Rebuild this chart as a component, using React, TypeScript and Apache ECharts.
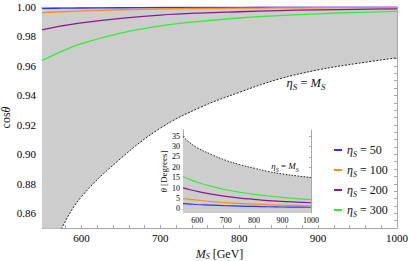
import React, { useEffect, useRef } from 'react';
import * as echarts from 'echarts';

// Scalar mass M_S [GeV] at which the curves were read
const massGeV = [550, 575, 600, 650, 700, 750, 800, 850, 900, 950, 1000];
// mixing angle theta [degrees] for each eta_S
const etaValues = ['50', '100', '200', '300'];
const thetaEta50 = [2.5, 2.3, 2.1, 1.8, 1.5, 1.3, 1.15, 1.0, 0.9, 0.82, 0.76];
const thetaEta100 = [5.0, 4.6, 4.2, 3.5, 3.0, 2.6, 2.3, 2.0, 1.8, 1.65, 1.5];
const thetaEta200 = [10.1, 9.2, 8.4, 7.1, 6.0, 5.2, 4.6, 4.0, 3.6, 3.2, 2.95];
const thetaEta300 = [15.5, 14.1, 12.8, 10.8, 9.2, 8.0, 7.0, 6.2, 5.5, 4.9, 4.45];
// boundary eta_S = M_S
const thetaBoundary = [34.8, 31.8, 29.4, 26.2, 23.4, 21.3, 19.6, 18.0, 16.8, 15.9, 15.1];

// tick labels
const mainXLabels = [600, 700, 800, 900, 1000];
const mainYLabels = [0.86, 0.88, 0.9, 0.92, 0.94, 0.96, 0.98, 1.0];
const insetXLabels = [600, 700, 800, 900, 1000];
const insetYLabels = [0, 5, 10, 15, 20, 25, 30, 35];

const colors = ['#3030ff', '#ff8c1a', '#8a1a8a', '#33ee33'];
const FONT = 'Liberation Serif';
const FRAME = '#a8a8a8';

const thetaSets = [thetaEta50, thetaEta100, thetaEta200, thetaEta300];

const toCos = (deg: number) => Math.cos((deg * Math.PI) / 180);

const richBase = (size: number, lh: number = size + 4) => ({
  i: { fontFamily: FONT, fontSize: size, fontStyle: 'italic', lineHeight: lh, color: '#111' },
  s: { fontFamily: FONT, fontSize: Math.round(size * 0.68), fontStyle: 'italic', lineHeight: Math.round(size * 0.68), verticalAlign: 'bottom', color: '#111' },
  t: { fontFamily: FONT, fontSize: size, lineHeight: lh, color: '#111' },
});

const richGraphic = (size: number) => ({
  i: { fontFamily: FONT, fontSize: size, fontStyle: 'italic', lineHeight: size + 4, fill: '#111' },
  s: { fontFamily: FONT, fontSize: Math.round(size * 0.68), fontStyle: 'italic', lineHeight: Math.round(size * 0.68), verticalAlign: 'bottom', fill: '#111' },
  t: { fontFamily: FONT, fontSize: size, lineHeight: size + 4, fill: '#111' },
});

const range = (a: number, b: number, step: number) => {
  const out: number[] = [];
  for (let v = a; v <= b + step * 1e-6; v += step) out.push(Math.round(v * 10000) / 10000);
  return out;
};

export default function App() {
  const ref = useRef<HTMLDivElement>(null);

  useEffect(() => {
    if (!ref.current) return;
    const chart = echarts.init(ref.current, undefined, { renderer: 'svg' });

    const mainXTicks = range(560, 1000, 20);
    const mainYTicks = range(0.855, 1.0, 0.005);
    const insetXTicks = range(560, 1000, 20);
    const insetYTicks = range(0, 35, 5);

    const axisCommon = {
      type: 'value' as const,
      axisLine: { show: true, lineStyle: { color: FRAME, width: 1 } },
      splitLine: { show: false },
      nameMoveOverlap: false,
    };

    const series: any[] = [];
    series.push({
      type: 'line',
      name: 'boundary',
      xAxisIndex: 0,
      yAxisIndex: 0,
      smooth: 0.4,
      symbol: 'none',
      clip: true,
      data: massGeV.map((m, k) => [m, toCos(thetaBoundary[k])]),
      lineStyle: { color: '#222', width: 1, type: [2, 1.5] },
      areaStyle: { origin: 'end', color: '#cdcdcd', opacity: 1 },
      z: 2,
    });
    thetaSets.forEach((set, j) => {
      series.push({
        type: 'line',
        name: 'eta' + etaValues[j],
        xAxisIndex: 0,
        yAxisIndex: 0,
        smooth: 0.4,
        symbol: 'none',
        clip: true,
        data: massGeV.map((m, k) => [m, toCos(set[k])]),
        lineStyle: { color: colors[j], width: 1.3 },
        itemStyle: { color: colors[j] },
        z: 3,
      });
    });
    series.push({
      type: 'line',
      name: 'boundaryInset',
      xAxisIndex: 2,
      yAxisIndex: 2,
      smooth: 0.4,
      symbol: 'none',
      data: massGeV.map((m, k) => [m, thetaBoundary[k]]),
      lineStyle: { color: '#222', width: 1, type: [1.5, 1.5] },
      areaStyle: { origin: 'start', color: '#cdcdcd', opacity: 1 },
      z: 2,
    });
    thetaSets.forEach((set, j) => {
      series.push({
        type: 'line',
        name: 'eta' + etaValues[j],
        xAxisIndex: 2,
        yAxisIndex: 2,
        smooth: 0.4,
        symbol: 'none',
        data: massGeV.map((m, k) => [m, set[k]]),
        lineStyle: { color: colors[j], width: 1.2 },
        itemStyle: { color: colors[j] },
        z: 3,
      });
    });

    const plain = (v: number) => String(v);

    const option: any = {
      animation: false,
      backgroundColor: '#ffffff',
      textStyle: { fontFamily: FONT, color: '#111' },
      grid: [
        { left: 42, right: 14, top: 7, bottom: 33, show: false, containLabel: false, outerBoundsMode: 'none' },
        {
          left: 183, right: 100, top: 130, bottom: 48, show: true, backgroundColor: '#ffffff', borderWidth: 0,
          containLabel: false, outerBoundsMode: 'none',
        },
      ],
      xAxis: [
        {
          ...axisCommon,
          gridIndex: 0,
          min: 550,
          max: 1000,
          position: 'bottom',
          axisTick: { show: true, inside: true, length: 3, customValues: mainXTicks, lineStyle: { color: FRAME } },
          axisLabel: { customValues: mainXLabels, fontFamily: FONT, fontSize: 11, color: '#000', margin: 4, formatter: plain },
          name: '{i|M}{s|S}{t| [GeV]}',
          nameLocation: 'middle',
          nameGap: 20,
          nameTextStyle: { rich: richBase(12, 12) },
        },
        {
          ...axisCommon,
          gridIndex: 0,
          min: 550,
          max: 1000,
          position: 'top',
          axisTick: { show: true, inside: true, length: 3, customValues: mainXTicks, lineStyle: { color: FRAME } },
          axisLabel: { show: false },
        },
        {
          ...axisCommon,
          gridIndex: 1,
          min: 550,
          max: 1000,
          position: 'bottom',
          axisTick: { show: true, inside: true, length: 2, customValues: insetXTicks, lineStyle: { color: FRAME } },
          axisLabel: { customValues: insetXLabels, fontFamily: FONT, fontSize: 8, color: '#000', margin: 3, formatter: plain },
        },
        {
          ...axisCommon,
          gridIndex: 1,
          min: 550,
          max: 1000,
          position: 'top',
          axisTick: { show: true, inside: true, length: 2, customValues: insetXTicks, lineStyle: { color: FRAME } },
          axisLabel: { show: false },
        },
      ],
      yAxis: [
        {
          ...axisCommon,
          gridIndex: 0,
          min: 0.85,
          max: 1.0,
          position: 'left',
          axisTick: { show: true, inside: true, length: 3, customValues: mainYTicks, lineStyle: { color: FRAME } },
          axisLabel: {
            customValues: mainYLabels,
            fontFamily: FONT,
            fontSize: 11,
            color: '#000',
            margin: 6,
            formatter: (v: number) => v.toFixed(2),
          },
          name: '{t|cos}{i|θ}',
          nameLocation: 'middle',
          nameGap: 30,
          nameTextStyle: { rich: richBase(12, 12) },
        },
        {
          ...axisCommon,
          gridIndex: 0,
          min: 0.85,
          max: 1.0,
          position: 'right',
          axisTick: { show: true, inside: true, length: 3, customValues: mainYTicks, lineStyle: { color: FRAME } },
          axisLabel: { show: false },
        },
        {
          ...axisCommon,
          gridIndex: 1,
          min: -2,
          max: 38,
          position: 'left',
          axisTick: { show: true, inside: true, length: 2, customValues: insetYTicks, lineStyle: { color: FRAME } },
          axisLabel: { customValues: insetYLabels, fontFamily: FONT, fontSize: 8, color: '#000', margin: 3, formatter: plain },
          name: '{i|θ}{t| [Degrees]}',
          nameLocation: 'middle',
          nameGap: 14,
          nameTextStyle: { rich: richBase(9, 10) },
        },
        {
          ...axisCommon,
          gridIndex: 1,
          min: -2,
          max: 38,
          position: 'right',
          axisTick: { show: true, inside: true, length: 2, customValues: insetYTicks, lineStyle: { color: FRAME } },
          axisLabel: { show: false },
        },
      ],
      legend: {
        data: etaValues.map((e) => 'eta' + e),
        orient: 'vertical',
        left: 329,
        top: 139,
        itemWidth: 8,
        itemHeight: 2,
        itemGap: 6,
        icon: 'rect',
        selectedMode: false,
        formatter: (name: string) => `{i|η}{s|S}{t| = ${name.replace('eta', '')}}`,
        textStyle: { fontFamily: FONT, fontSize: 12, color: '#111', rich: richBase(12) },
      },
      graphic: [
        {
          type: 'text',
          x: 306,
          y: 83,
          z: 50,
          style: {
            text: '{i|η}{s|S}{t| = }{i|M}{s|S}',
            rich: richGraphic(12.5),
            align: 'center',
            verticalAlign: 'middle',
            fontFamily: FONT,
            fontSize: 12.5,
          },
        },
        {
          type: 'text',
          x: 285,
          y: 166,
          z: 50,
          style: {
            text: '{i|η}{s|S}{t| = }{i|M}{s|S}',
            rich: richGraphic(9),
            align: 'center',
            verticalAlign: 'middle',
            fontFamily: FONT,
            fontSize: 9,
          },
        },
      ],
      series,
    };

    chart.setOption(option);
    return () => chart.dispose();
  }, []);

  return <div ref={ref} style={{ position: 'fixed', left: 0, top: 0, width: 411, height: 261 }} />;
}
